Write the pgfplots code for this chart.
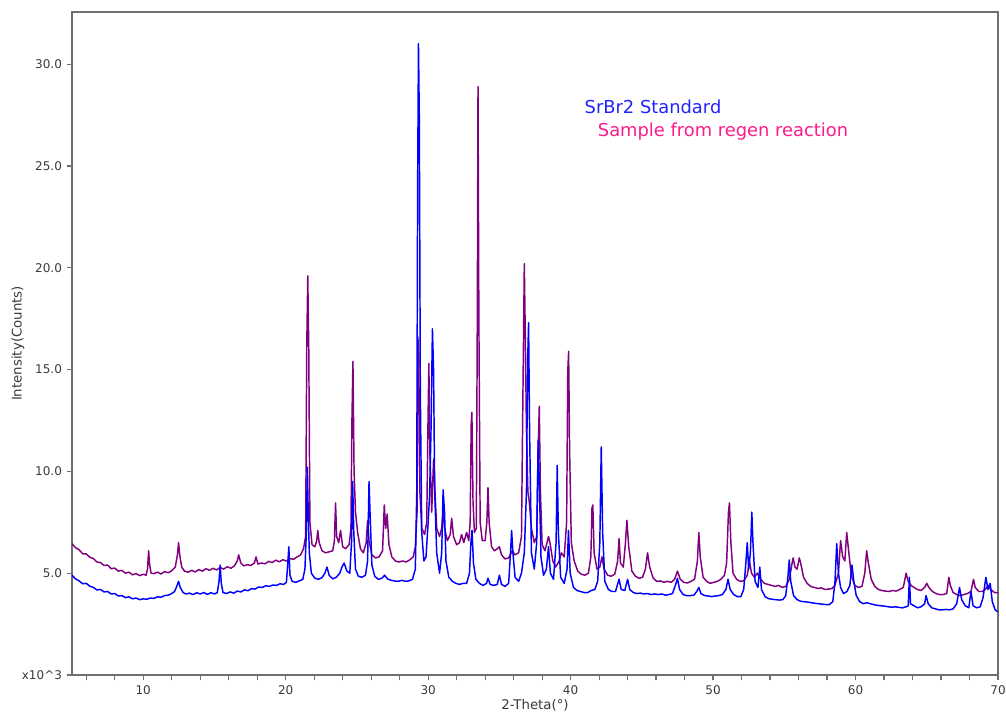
\documentclass[border=0pt]{standalone}
\usepackage{fontspec}
\setmainfont{DejaVu Sans}
\usepackage{pgfplots}
\pgfplotsset{compat=1.18}
\definecolor{xrdblue}{HTML}{0000FF}
\definecolor{xrdpurple}{HTML}{800080}
\definecolor{legblue}{HTML}{2222FF}
\definecolor{legpink}{HTML}{FF1A8C}
\definecolor{axgray}{HTML}{707070}
\definecolor{txtgray}{HTML}{3A3A3A}

\begin{document}
\begin{tikzpicture}
\begin{axis}[
  at={(0,0)}, anchor=south west,
  scale only axis,
  width=694.5pt, height=497.25pt,
  xmin=5, xmax=70, ymin=0, ymax=32.56,
  axis line style={axgray, line width=1.2pt},
  xtick={10,20,...,70},
  xticklabels={10,20,30,40,50,60,70},
  minor xtick={6,8,...,68},
  ytick={0,5,...,30},
  yticklabels={x10\textasciicircum 3,5.0,10.0,15.0,20.0,25.0,30.0},
  xtick pos=bottom, ytick pos=left,
  tick align=outside,
  major tick length=4pt, minor tick length=4pt,
  every tick/.style={axgray, line width=0.9pt},
  tick label style={font=\fontsize{9}{10}\selectfont, text=txtgray},
  xticklabel style={yshift=-0.5pt},
  xlabel={2-Theta(°)}, ylabel={Intensity(Counts)},
  label style={font=\fontsize{10}{12}\selectfont, text=txtgray},
  xlabel style={at={(axis description cs:0.5,-0.0452)}, anchor=center},
  ylabel style={at={(axis description cs:-0.0583,0.5)}, anchor=center},
  every axis plot/.append style={line width=1.1pt, line join=round},
]
% Sample from regen reaction
\addplot[xrdpurple] coordinates {
(5.00,6.45) (5.25,6.25) (5.50,6.15) (5.75,5.95) (6.00,5.95) (6.25,5.78) (6.50,5.72) (6.75,5.55)
(7.00,5.52) (7.25,5.38) (7.50,5.40) (7.75,5.22) (8.00,5.25) (8.25,5.10) (8.50,5.14) (8.75,5.00)
(9.00,5.05) (9.25,4.92) (9.50,4.98) (9.75,4.88) (10.00,4.95) (10.20,4.90) (10.30,5.2) (10.38,6.1)
(10.45,5.4) (10.55,5.0) (10.75,4.98) (11.00,5.05) (11.25,4.96) (11.50,5.08) (11.75,5.02) (12.00,5.12)
(12.25,5.3) (12.40,5.9) (12.48,6.5) (12.56,5.9) (12.70,5.3) (12.90,5.1) (13.15,5.05) (13.40,5.14)
(13.65,5.06) (13.90,5.18) (14.15,5.10) (14.40,5.22) (14.65,5.14) (14.90,5.24) (15.15,5.16) (15.40,5.28)
(15.65,5.20) (15.90,5.32) (16.15,5.24) (16.40,5.36) (16.60,5.6) (16.70,5.9) (16.85,5.5) (17.05,5.36)
(17.30,5.42) (17.55,5.38) (17.80,5.50) (17.92,5.8) (18.05,5.45) (18.30,5.50) (18.55,5.46) (18.80,5.58)
(19.05,5.52) (19.30,5.64) (19.55,5.56) (19.80,5.66) (20.05,5.60) (20.30,5.72) (20.55,5.68) (20.80,5.80)
(21.05,5.9) (21.25,6.2) (21.40,6.8) (21.48,16.2) (21.55,19.6) (21.62,16.0) (21.70,7.5) (21.85,6.4)
(22.05,6.3) (22.18,6.6) (22.25,7.1) (22.35,6.5) (22.55,6.1) (22.80,6.0) (23.05,6.05) (23.30,6.1)
(23.42,6.6) (23.50,8.45) (23.58,6.8) (23.72,6.5) (23.85,7.1) (24.00,6.3) (24.20,6.2) (24.45,6.4)
(24.58,7.2) (24.65,12.5) (24.72,15.4) (24.80,10.0) (24.90,8.0) (25.05,7.0) (25.25,6.2) (25.45,6.0)
(25.65,6.5) (25.75,7.6) (25.85,6.6) (26.05,5.9) (26.30,5.75) (26.55,5.8) (26.80,6.1) (26.92,8.35)
(27.02,7.2) (27.12,7.9) (27.25,6.4) (27.45,5.8) (27.70,5.6) (27.95,5.55) (28.20,5.6) (28.45,5.55)
(28.70,5.65) (28.95,5.8) (29.10,6.3) (29.22,8.0) (29.28,16.6) (29.34,15.6) (29.42,9.0) (29.55,7.2)
(29.75,6.9) (29.90,7.5) (29.98,12.0) (30.05,15.3) (30.12,11.0) (30.25,8.0) (30.38,10.6) (30.48,9.0)
(30.60,7.2) (30.80,6.8) (30.95,7.2) (31.05,8.0) (31.15,7.2) (31.35,6.6) (31.55,6.9) (31.65,7.7)
(31.78,6.8) (32.00,6.4) (32.20,6.5) (32.35,6.9) (32.50,6.5) (32.70,7.0) (32.85,6.6) (32.95,7.5)
(33.02,12.3) (33.07,12.9) (33.15,8.5) (33.25,7.0) (33.38,7.2) (33.45,17.5) (33.50,28.9) (33.56,17.5)
(33.65,7.5) (33.80,6.6) (34.00,6.6) (34.12,7.5) (34.20,9.2) (34.28,7.5) (34.45,6.3) (34.65,6.1)
(34.85,6.2) (35.00,6.3) (35.15,5.9) (35.40,5.7) (35.65,5.75) (35.90,6.1) (36.10,5.9) (36.35,6.0)
(36.55,6.8) (36.65,13.6) (36.75,20.2) (36.82,16.6) (36.90,12.0) (37.00,9.0) (37.10,8.5) (37.25,7.2)
(37.45,6.5) (37.62,6.8) (37.72,11.0) (37.80,13.2) (37.88,9.0) (38.00,6.4) (38.20,6.1) (38.45,6.8)
(38.55,6.5) (38.75,5.6) (38.95,5.3) (39.20,5.6) (39.35,6.0) (39.55,5.8) (39.72,7.5) (39.80,14.9)
(39.86,15.9) (39.93,11.0) (40.05,6.5) (40.25,5.6) (40.50,5.1) (40.75,4.95) (41.00,4.9) (41.25,5.0)
(41.42,5.8) (41.50,8.2) (41.56,8.35) (41.65,6.0) (41.85,5.2) (42.05,5.3) (42.20,5.8) (42.35,5.2)
(42.60,4.9) (42.85,4.85) (43.10,4.95) (43.30,5.6) (43.40,6.7) (43.50,5.5) (43.70,5.3) (43.85,6.5)
(43.95,7.6) (44.08,6.3) (44.30,5.1) (44.55,4.85) (44.80,4.75) (45.05,4.8) (45.25,5.2) (45.40,6.0)
(45.55,5.3) (45.80,4.75) (46.05,4.6) (46.30,4.62) (46.55,4.55) (46.80,4.6) (47.05,4.55) (47.30,4.7)
(47.50,5.1) (47.70,4.7) (47.95,4.55) (48.20,4.52) (48.45,4.6) (48.70,4.7) (48.90,5.6) (49.00,7.0)
(49.10,5.8) (49.30,4.8) (49.55,4.6) (49.80,4.5) (50.05,4.55) (50.30,4.6) (50.55,4.7) (50.80,4.9)
(50.95,5.5) (51.08,8.0) (51.15,8.45) (51.25,6.5) (51.40,5.0) (51.65,4.7) (51.90,4.6) (52.15,4.62)
(52.40,4.9) (52.55,5.6) (52.70,5.0) (52.90,4.8) (53.10,5.0) (53.35,4.7) (53.60,4.5) (53.85,4.45)
(54.10,4.4) (54.35,4.35) (54.60,4.4) (54.85,4.3) (55.10,4.35) (55.35,4.7) (55.55,5.5) (55.62,5.75)
(55.75,5.3) (55.90,5.2) (56.05,5.75) (56.15,5.5) (56.35,4.8) (56.60,4.5) (56.85,4.35) (57.10,4.3)
(57.35,4.25) (57.60,4.28) (57.85,4.2) (58.10,4.22) (58.35,4.25) (58.55,4.4) (58.80,5.0) (58.95,6.6)
(59.10,5.8) (59.25,5.6) (59.38,7.0) (59.50,6.2) (59.70,4.9) (59.95,4.4) (60.20,4.3) (60.45,4.35)
(60.65,5.0) (60.78,6.1) (60.90,5.5) (61.10,4.7) (61.35,4.35) (61.60,4.2) (61.85,4.15) (62.10,4.12)
(62.35,4.1) (62.60,4.15) (62.85,4.12) (63.10,4.2) (63.35,4.3) (63.55,5.0) (63.70,4.6) (63.90,4.4)
(64.10,4.3) (64.35,4.2) (64.60,4.15) (64.85,4.3) (65.00,4.5) (65.15,4.3) (65.40,4.1) (65.65,4.0)
(65.90,3.95) (66.15,3.95) (66.40,4.0) (66.55,4.8) (66.65,4.4) (66.85,4.05) (67.10,3.95) (67.35,3.9)
(67.60,3.95) (67.85,4.0) (68.10,4.1) (68.28,4.7) (68.40,4.3) (68.65,4.1) (68.90,4.1) (69.10,4.2)
(69.30,4.4) (69.50,4.2) (69.75,4.05) (70.00,4.05)
};
% SrBr2 standard
\addplot[xrdblue] coordinates {
(5.00,4.90) (5.25,4.72) (5.50,4.62) (5.75,4.48) (6.00,4.50) (6.25,4.36) (6.50,4.30) (6.75,4.18)
(7.00,4.20) (7.25,4.08) (7.50,4.10) (7.75,3.98) (8.00,4.00) (8.25,3.88) (8.50,3.90) (8.75,3.80)
(9.00,3.84) (9.25,3.74) (9.50,3.78) (9.75,3.70) (10.00,3.74) (10.25,3.72) (10.50,3.78) (10.75,3.76)
(11.00,3.84) (11.25,3.82) (11.50,3.90) (11.75,3.92) (12.00,4.00) (12.20,4.10) (12.35,4.35) (12.48,4.60)
(12.60,4.30) (12.80,4.05) (13.00,3.98) (13.25,4.02) (13.50,3.95) (13.75,4.04) (14.00,3.98) (14.25,4.05)
(14.50,3.96) (14.75,4.04) (15.00,3.98) (15.20,4.05) (15.32,4.6) (15.40,5.4) (15.48,4.5) (15.60,4.05)
(15.85,4.0) (16.10,4.08) (16.35,4.02) (16.60,4.12) (16.85,4.08) (17.10,4.18) (17.35,4.14) (17.60,4.24)
(17.85,4.22) (18.10,4.32) (18.35,4.30) (18.60,4.38) (18.85,4.35) (19.10,4.42) (19.35,4.40) (19.60,4.48)
(19.85,4.45) (20.05,4.55) (20.15,5.5) (20.22,6.3) (20.30,4.9) (20.45,4.6) (20.70,4.55) (20.95,4.62)
(21.20,4.7) (21.35,5.2) (21.45,7.0) (21.52,10.2) (21.58,8.0) (21.66,6.0) (21.80,5.0) (22.05,4.75)
(22.30,4.7) (22.55,4.78) (22.75,5.0) (22.90,5.3) (23.05,4.9) (23.30,4.72) (23.55,4.8) (23.80,5.0)
(23.95,5.3) (24.10,5.5) (24.30,5.1) (24.50,5.0) (24.62,6.5) (24.70,9.5) (24.78,7.0) (24.90,5.2)
(25.10,4.85) (25.35,4.8) (25.60,4.9) (25.75,5.6) (25.85,9.5) (25.92,8.0) (26.05,5.4) (26.25,4.85)
(26.50,4.7) (26.75,4.75) (26.95,4.9) (27.15,4.72) (27.40,4.65) (27.65,4.62) (27.90,4.6) (28.15,4.65)
(28.40,4.6) (28.65,4.62) (28.90,4.7) (29.10,5.2) (29.20,9.0) (29.26,23.8) (29.32,31.0) (29.38,27.3)
(29.45,14.0) (29.55,7.0) (29.70,5.6) (29.85,5.8) (30.00,7.5) (30.10,8.8) (30.20,12.0) (30.30,17.0)
(30.38,15.0) (30.46,9.0) (30.60,6.0) (30.80,5.0) (30.95,6.0) (31.05,9.1) (31.15,8.0) (31.25,5.6)
(31.45,4.8) (31.70,4.6) (31.95,4.5) (32.20,4.45) (32.45,4.5) (32.70,4.5) (32.90,5.0) (33.00,6.5)
(33.08,7.1) (33.18,5.5) (33.35,4.7) (33.60,4.5) (33.85,4.4) (34.10,4.5) (34.20,4.75) (34.35,4.45)
(34.60,4.4) (34.85,4.45) (35.00,4.9) (35.15,4.45) (35.40,4.35) (35.65,4.5) (35.78,6.0) (35.86,7.1)
(35.95,6.0) (36.10,4.8) (36.35,4.6) (36.55,5.0) (36.75,6.0) (36.90,9.0) (36.98,15.3) (37.05,17.3)
(37.12,12.0) (37.25,6.0) (37.45,5.2) (37.62,6.5) (37.72,11.5) (37.80,9.5) (37.92,5.8) (38.10,4.9)
(38.30,5.2) (38.45,6.3) (38.58,5.0) (38.80,4.7) (38.98,6.5) (39.06,10.3) (39.14,7.0) (39.30,4.8)
(39.55,4.5) (39.75,5.2) (39.85,7.1) (39.97,5.0) (40.20,4.3) (40.45,4.15) (40.70,4.1) (40.95,4.05)
(41.20,4.05) (41.45,4.15) (41.70,4.2) (41.90,4.6) (42.05,6.5) (42.15,11.2) (42.25,7.0) (42.40,4.6)
(42.65,4.2) (42.90,4.1) (43.15,4.1) (43.40,4.7) (43.55,4.2) (43.80,4.15) (44.00,4.7) (44.15,4.2)
(44.40,4.05) (44.65,4.0) (44.90,4.02) (45.15,3.98) (45.40,4.0) (45.65,3.95) (45.90,3.98) (46.15,3.95)
(46.40,3.98) (46.65,3.92) (46.90,3.95) (47.15,4.0) (47.40,4.5) (47.50,4.75) (47.65,4.2) (47.90,3.95)
(48.15,3.9) (48.40,3.9) (48.65,3.92) (48.85,4.1) (49.00,4.3) (49.15,4.0) (49.40,3.9) (49.65,3.88)
(49.90,3.85) (50.15,3.88) (50.40,3.9) (50.65,3.95) (50.90,4.2) (51.05,4.7) (51.20,4.2) (51.45,3.95)
(51.70,3.85) (51.95,3.85) (52.15,4.2) (52.30,5.5) (52.40,6.5) (52.50,5.2) (52.62,6.0) (52.72,8.0)
(52.80,6.5) (52.95,4.6) (53.15,4.3) (53.28,5.3) (53.40,4.2) (53.65,3.85) (53.90,3.75) (54.15,3.72)
(54.40,3.7) (54.65,3.68) (54.90,3.7) (55.10,3.9) (55.25,4.8) (55.35,5.65) (55.45,4.6) (55.65,3.9)
(55.90,3.7) (56.15,3.62) (56.40,3.6) (56.65,3.58) (56.90,3.55) (57.15,3.52) (57.40,3.5) (57.65,3.48)
(57.90,3.46) (58.15,3.45) (58.40,3.6) (58.55,4.5) (58.68,6.45) (58.80,5.0) (58.95,4.3) (59.15,4.0)
(59.40,4.1) (59.60,4.4) (59.75,5.4) (59.88,4.6) (60.05,3.9) (60.30,3.6) (60.55,3.5) (60.80,3.55)
(61.05,3.5) (61.30,3.45) (61.55,3.42) (61.80,3.4) (62.05,3.38) (62.30,3.35) (62.55,3.33) (62.80,3.35)
(63.05,3.32) (63.30,3.3) (63.55,3.35) (63.70,3.4) (63.78,4.8) (63.86,3.5) (64.10,3.4) (64.35,3.3)
(64.60,3.35) (64.85,3.5) (64.95,3.9) (65.10,3.5) (65.35,3.3) (65.60,3.25) (65.85,3.2) (66.10,3.2)
(66.35,3.22) (66.60,3.2) (66.85,3.25) (67.10,3.5) (67.30,4.3) (67.45,3.7) (67.70,3.4) (67.95,3.3)
(68.10,4.1) (68.25,3.4) (68.50,3.3) (68.75,3.35) (68.95,3.8) (69.15,4.8) (69.30,4.2) (69.45,4.5)
(69.60,3.6) (69.80,3.2) (70.00,3.1)
};
\node[anchor=west, inner sep=0, text=legblue, font=\fontsize{13.4}{15}\selectfont] at (axis cs:40.97,27.9) {SrBr2 Standard};
\node[anchor=west, inner sep=0, text=legpink, font=\fontsize{13.4}{15}\selectfont] at (axis cs:41.9,26.67) {Sample from regen reaction};
\end{axis}
\pgfresetboundingbox
\path[use as bounding box] (-54pt,-31.5pt) rectangle (700.5pt,506.25pt);
\end{tikzpicture}
\end{document}
